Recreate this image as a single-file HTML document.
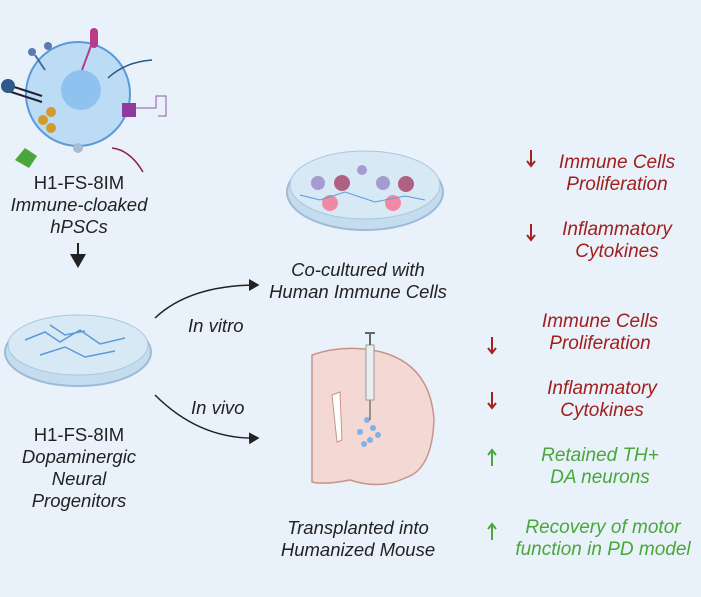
<!DOCTYPE html>
<html><head><style>
body{margin:0;width:701px;height:597px;background:#e9f1fa;overflow:hidden;position:relative;font-family:"Liberation Sans",sans-serif;}
.t{position:absolute;text-align:center;font-size:18.5px;line-height:22px;color:#222;white-space:nowrap;}
.i{font-style:italic;}
.r{color:#a0201c;font-style:italic;font-size:19px;}
.g{color:#4aa73a;font-style:italic;font-size:19px;}
</style></head><body>
<svg width="701" height="597" style="position:absolute;left:0;top:0">
<defs><marker id="a" markerWidth="8" markerHeight="8" refX="6" refY="4" orient="auto"><path d="M0,0 L7,4 L0,8z" fill="#222"/></marker></defs>
<circle cx="78" cy="94" r="52" fill="#bcdcf5" stroke="#5b9ad8" stroke-width="2"/>
<circle cx="81" cy="90" r="20" fill="#8fc2ee"/>
<circle cx="51" cy="112" r="5" fill="#d19a2a"/><circle cx="43" cy="120" r="5" fill="#d19a2a"/><circle cx="51" cy="128" r="5" fill="#d19a2a"/>
<line x1="5" y1="84" x2="42" y2="96" stroke="#223" stroke-width="2"/><line x1="5" y1="90" x2="42" y2="102" stroke="#223" stroke-width="2"/>
<circle cx="8" cy="86" r="7" fill="#2c5a8a"/>
<line x1="82" y1="70" x2="95" y2="35" stroke="#b83b8a" stroke-width="2"/><rect x="90" y="28" width="8" height="20" rx="4" fill="#b83b8a"/>
<line x1="45" y1="70" x2="35" y2="55" stroke="#4a6aa0" stroke-width="2"/><circle cx="32" cy="52" r="4" fill="#5a7ab0"/><circle cx="48" cy="46" r="4" fill="#5a7ab0"/>
<path d="M108,78 Q125,62 152,60" stroke="#2b5a7a" fill="none" stroke-width="1.5"/>
<rect x="122" y="103" width="14" height="14" fill="#8e3b9e"/>
<path d="M136,108 h20 v-12 h10 v20 h-8" stroke="#8e5ba0" fill="none"/>
<path d="M112,148 Q130,150 143,172" stroke="#8e2040" fill="none" stroke-width="1.5"/>
<path d="M15,160 l10,-12 l12,8 l-8,12z" fill="#4aa53a"/>
<circle cx="78" cy="148" r="5" fill="#a8bcd6"/>
<line x1="78" y1="243" x2="78" y2="266" stroke="#222" stroke-width="2" marker-end="url(#a)"/>
<ellipse cx="78" cy="352" rx="73" ry="34" fill="#c5dcee" stroke="#9dbbd6" stroke-width="2"/>
<ellipse cx="78" cy="345" rx="70" ry="30" fill="#d8e9f6" stroke="#a9c6df"/>
<path d="M25,340 l20,-8 l15,10 l20,-12 l20,14 l25,-6 M40,355 l25,-8 l20,10 l30,-6 M50,325 l15,10 l20,-4" stroke="#5a9ad8" fill="none" stroke-width="1.5"/>
<ellipse cx="365" cy="192" rx="78" ry="38" fill="#c5dcee" stroke="#9dbbd6" stroke-width="2"/>
<ellipse cx="365" cy="185" rx="75" ry="34" fill="#d8e9f6" stroke="#a9c6df"/>
<circle cx="318" cy="183" r="7" fill="#a69bd0"/><circle cx="342" cy="183" r="8" fill="#b06080"/><circle cx="383" cy="183" r="7" fill="#a69bd0"/><circle cx="406" cy="184" r="8" fill="#b06080"/>
<circle cx="330" cy="203" r="8" fill="#f08aa4"/><circle cx="393" cy="203" r="8" fill="#f08aa4"/><circle cx="362" cy="170" r="5" fill="#a69bd0"/>
<path d="M300,195 l20,5 l25,-8 l30,10 l30,-6 l20,4" stroke="#5a9ad8" fill="none"/>
<path d="M155,318 Q190,285 258,285" stroke="#222" fill="none" stroke-width="1.5" marker-end="url(#a)"/>
<path d="M155,395 Q200,440 258,438" stroke="#222" fill="none" stroke-width="1.5" marker-end="url(#a)"/>
<path d="M312,355 Q340,345 372,350 Q430,360 434,420 Q432,470 405,478 Q380,490 350,480 Q325,485 312,482z" fill="#f3d8d3" stroke="#c9938a" stroke-width="1.5"/>
<path d="M332,395 l8,-3 l2,48 l-5,2z" fill="#fff" stroke="#c9938a"/>
<g fill="#7fb3e8"><circle cx="367" cy="420" r="3"/><circle cx="373" cy="428" r="3"/><circle cx="360" cy="432" r="3"/><circle cx="370" cy="440" r="3"/><circle cx="378" cy="435" r="3"/><circle cx="364" cy="444" r="3"/></g>
<line x1="370" y1="400" x2="370" y2="420" stroke="#444"/>
<rect x="366" y="345" width="8" height="55" fill="#e8eef2" stroke="#999"/>
<line x1="370" y1="333" x2="370" y2="345" stroke="#666" stroke-width="2"/><line x1="365" y1="333" x2="375" y2="333" stroke="#666" stroke-width="2"/>
<g stroke-width="2" fill="none">
<path d="M531,150 v16 m-4,-5 l4,5 l4,-5" stroke="#a3231f"/>
<path d="M531,224 v16 m-4,-5 l4,5 l4,-5" stroke="#a3231f"/>
<path d="M492,337 v16 m-4,-5 l4,5 l4,-5" stroke="#a3231f"/>
<path d="M492,392 v16 m-4,-5 l4,5 l4,-5" stroke="#a3231f"/>
<path d="M492,466 v-16 m-4,5 l4,-5 l4,5" stroke="#4aa73a"/>
<path d="M492,540 v-16 m-4,5 l4,-5 l4,5" stroke="#4aa73a"/>
</g>
</svg>
<div class="t" style="left:0;width:158px;top:172px">H1-FS-8IM<br><span class="i">Immune-cloaked<br>hPSCs</span></div>
<div class="t" style="left:0;width:158px;top:424px">H1-FS-8IM<br><span class="i">Dopaminergic<br>Neural<br>Progenitors</span></div>
<div class="t i" style="left:238px;width:240px;top:259px">Co-cultured with<br>Human Immune Cells</div>
<div class="t i" style="left:238px;width:240px;top:517px">Transplanted into<br>Humanized Mouse</div>
<div class="t i" style="left:188px;top:315px">In vitro</div>
<div class="t i" style="left:191px;top:397px">In vivo</div>
<div class="t r" style="left:542px;width:150px;top:152px">Immune Cells<br>Proliferation</div>
<div class="t r" style="left:542px;width:150px;top:219px">Inflammatory<br>Cytokines</div>
<div class="t r" style="left:520px;width:160px;top:311px">Immune Cells<br>Proliferation</div>
<div class="t r" style="left:522px;width:160px;top:378px">Inflammatory<br>Cytokines</div>
<div class="t g" style="left:520px;width:160px;top:445px">Retained TH+<br>DA neurons</div>
<div class="t g" style="left:508px;width:190px;top:517px">Recovery of motor<br>function in PD model</div>
</body></html>
